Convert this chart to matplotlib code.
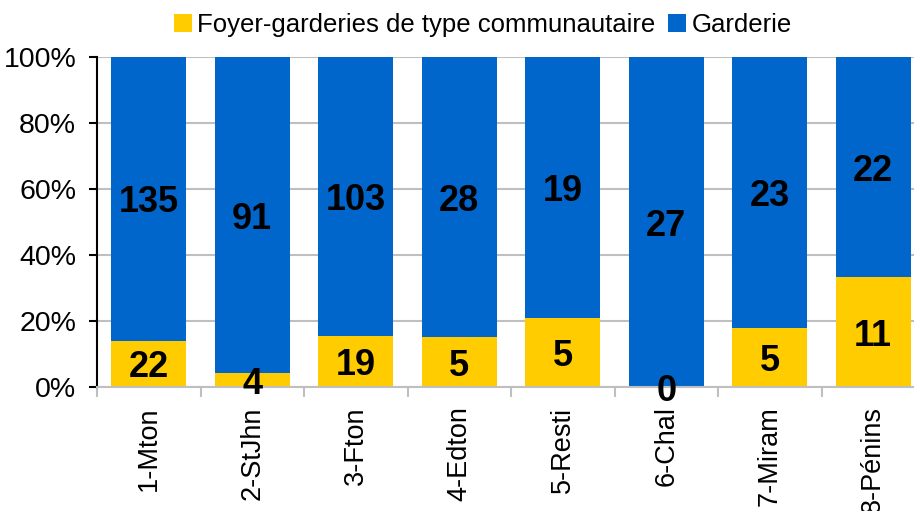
import matplotlib
matplotlib.use("Agg")
import matplotlib.pyplot as plt
import numpy as np

categories = ["1-Mton", "2-StJhn", "3-Fton", "4-Edton", "5-Resti", "6-Chal", "7-Miram", "8-Pénins"]
foyer = [22, 4, 19, 5, 5, 0, 5, 11]
garderie = [135, 91, 103, 28, 19, 27, 23, 22]
series_names = ["Foyer-garderies de type communautaire", "Garderie"]
yticks = [0, 20, 40, 60, 80, 100]

plt.rcParams['font.family'] = ['Liberation Sans', 'DejaVu Sans']

fig = plt.figure(figsize=(9.14, 5.11), dpi=100)
ax = fig.add_axes([97/914, 1-387/511, 828/914, 330/511])

f = np.array(foyer, float)
g = np.array(garderie, float)
tot = f + g
fp = f / tot * 100
gp = g / tot * 100
x = np.arange(len(categories))
w = 0.72
yellow = "#FFCC00"
blue = "#0066CC"
b1 = ax.bar(x, fp, w, color=yellow, label=series_names[0], zorder=2)
b2 = ax.bar(x, gp, w, bottom=fp, color=blue, label=series_names[1], zorder=2)

for i in range(len(x)):
    ax.text(x[i], fp[i]/2, f"{foyer[i]}", ha="center", va="center_baseline", fontsize=26,
            fontweight="bold", color="black", zorder=3, clip_on=False)
    ax.text(x[i], fp[i] + gp[i]/2, f"{garderie[i]}", ha="center", va="center_baseline", fontsize=26,
            fontweight="bold", color="black", zorder=3)

ax.set_xlim(-0.5, len(categories) - 0.5)
ax.set_ylim(0, 100)
ax.set_yticks(yticks)
ax.set_yticklabels([f"{v}%" for v in yticks], fontsize=20.5)
ax.yaxis.grid(True, color="#BFBFBF", linewidth=1.5, zorder=0)
ax.set_axisbelow(True)
ax.set_xticks(x)
ax.set_xticklabels(categories, rotation=90, fontsize=19.5)
ax.tick_params(axis="x", length=0, pad=14)
ax.set_xticks(np.arange(-0.5, len(categories), 1), minor=True)
ax.tick_params(axis="x", which="minor", length=7, width=1.5, color="#BFBFBF")
ax.tick_params(axis="y", length=6, width=1.5, color="black", pad=9)
for s in ["top", "right"]:
    ax.spines[s].set_visible(False)
ax.spines["left"].set_color("black")
ax.spines["left"].set_linewidth(1.5)
ax.spines["bottom"].set_color("#BFBFBF")
ax.spines["bottom"].set_linewidth(1.5)

fig.legend(handles=[b1, b2], labels=series_names, loc="center", bbox_to_anchor=(483/914, 1-25/511),
           ncol=2, frameon=False, fontsize=18.5, handlelength=0.7, handleheight=0.7,
           handletextpad=0.2, columnspacing=0.5, borderaxespad=0)

fig.savefig("out.png", dpi=100)
